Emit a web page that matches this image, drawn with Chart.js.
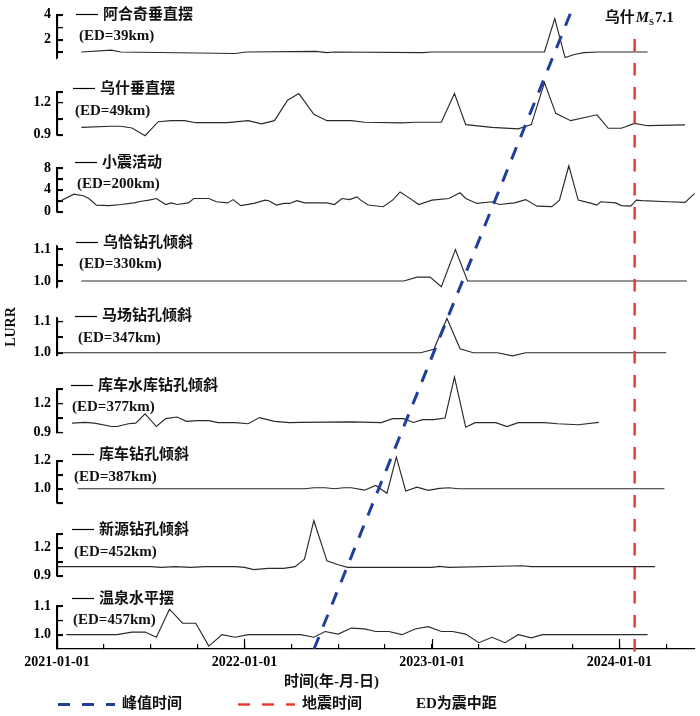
<!DOCTYPE html>
<html>
<head>
<meta charset="utf-8">
<script src="https://cdn.jsdelivr.net/npm/chart.js@4.4.1/dist/chart.umd.min.js"></script>
<style>
html,body{margin:0;padding:0;background:#fff;}
#wrap{width:700px;height:716px;position:relative;}
</style>
</head>
<body>
<div id="wrap"><canvas id="c"></canvas></div>
<script>
// ---------------- DATA ----------------
const stationNames = ['阿合奇垂直摆','乌什垂直摆','小震活动','乌恰钻孔倾斜','马场钻孔倾斜','库车水库钻孔倾斜','库车钻孔倾斜','新源钻孔倾斜','温泉水平摆'];
const epicentralKm = [39, 49, 200, 330, 347, 377, 387, 452, 457];

const t1 = [2021.13,2021.29,2021.34,2021.95,2022.01,2022.38,2022.44,2022.48,2022.95,2023.00,2023.60,2023.655,2023.71,2023.76,2023.81,2023.89,2024.15];
const v1 = [1.0,1.15,1.0,0.88,1.0,1.05,0.95,1.0,0.95,1.0,1.0,3.7,0.55,0.8,0.95,1.0,1.0];

const t2 = [2021.13,2021.29,2021.34,2021.40,2021.47,2021.54,2021.61,2021.68,2021.74,2021.91,2022.02,2022.09,2022.16,2022.23,2022.29,2022.37,2022.44,2022.57,2022.64,2022.84,2022.91,2023.05,2023.12,2023.18,2023.32,2023.46,2023.53,2023.60,2023.66,2023.74,2023.88,2023.94,2024.01,2024.08,2024.15,2024.35];
const v2 = [0.968,0.978,0.978,0.962,0.89,1.02,1.03,1.03,1.011,1.011,1.03,1.0,1.03,1.22,1.283,1.09,1.03,1.03,1.015,1.01,1.015,1.015,1.283,0.993,0.968,0.953,0.993,1.385,1.098,1.03,1.085,0.959,0.959,1.005,0.983,0.99];

const t3 = [2021.01,2021.09,2021.14,2021.17,2021.21,2021.28,2021.34,2021.41,2021.45,2021.49,2021.53,2021.58,2021.61,2021.64,2021.70,2021.73,2021.81,2021.85,2021.91,2021.94,2021.98,2022.05,2022.11,2022.13,2022.17,2022.21,2022.24,2022.28,2022.32,2022.38,2022.44,2022.48,2022.52,2022.56,2022.60,2022.62,2022.66,2022.74,2022.79,2022.83,2022.87,2022.93,2023.00,2023.09,2023.15,2023.18,2023.24,2023.32,2023.36,2023.44,2023.50,2023.56,2023.64,2023.68,2023.73,2023.78,2023.85,2023.88,2023.90,2023.98,2024.01,2024.06,2024.09,2024.12,2024.26,2024.35,2024.40];
const v3 = [1.8,3.2,2.9,2.4,1.2,1.1,1.3,1.6,1.9,2.1,2.4,1.3,1.6,1.3,1.6,2.4,2.4,1.8,1.6,2.2,1.1,1.5,2.1,2.0,1.2,1.5,1.5,2.0,1.6,1.6,1.6,1.3,2.4,2.2,2.7,2.1,1.2,0.9,2.1,3.6,2.7,1.3,2.1,2.4,3.45,2.4,1.5,1.8,1.3,1.6,2.2,1.0,0.9,2.1,8.4,2.1,1.5,1.2,1.8,1.6,1.1,1.0,2.1,2.0,1.8,1.7,3.3];

const t4 = [2021.13,2022.85,2022.92,2022.99,2023.05,2023.125,2023.19,2024.36];
const v4 = [1.0,1.0,1.012,1.012,0.982,1.098,1.0,1.0];

const t5 = [2021.0,2022.94,2023.01,2023.08,2023.15,2023.22,2023.35,2023.43,2023.50,2024.25];
const v5 = [1.0,1.0,1.011,1.109,1.013,1.0,1.0,0.99,1.0,1.0];

const t6 = [2021.08,2021.15,2021.20,2021.29,2021.32,2021.38,2021.42,2021.47,2021.53,2021.58,2021.64,2021.69,2021.75,2021.81,2021.86,2021.95,2022.02,2022.08,2022.16,2022.24,2022.30,2022.57,2022.73,2022.79,2022.85,2022.90,2022.95,2023.01,2023.07,2023.12,2023.18,2023.23,2023.34,2023.40,2023.46,2023.60,2023.67,2023.78,2023.89];
const v6 = [0.995,1.002,0.995,0.96,0.96,0.989,0.995,1.09,0.96,1.041,1.058,1.013,1.02,1.02,1.0,1.0,0.989,1.052,1.013,1.0,1.002,1.008,1.0,1.041,1.041,1.002,1.031,1.031,1.048,1.47,0.953,1.0,1.0,0.96,1.0,1.0,0.989,0.978,1.002];

const t7 = [2021.11,2022.32,2022.37,2022.43,2022.48,2022.53,2022.57,2022.64,2022.70,2022.76,2022.81,2022.86,2022.92,2022.98,2023.04,2023.09,2023.14,2024.24];
const v7 = [1.0,1.0,1.007,1.007,1.0,1.007,1.007,0.99,1.024,0.968,1.225,0.984,1.012,0.989,1.003,1.007,1.0,1.0];

const t8 = [2021.0,2021.50,2021.555,2021.63,2021.715,2021.79,2021.95,2022.0,2022.05,2022.125,2022.21,2022.27,2022.32,2022.37,2022.44,2022.50,2022.55,2023.0,2023.04,2023.09,2023.48,2023.53,2024.19];
const v8 = [0.995,0.995,0.988,0.995,0.988,0.995,0.995,0.988,0.963,0.977,0.977,0.995,1.076,1.488,1.058,1.016,0.988,0.988,0.998,0.988,1.005,0.995,0.995];

const t9 = [2021.05,2021.32,2021.40,2021.47,2021.53,2021.60,2021.67,2021.74,2021.81,2021.88,2021.95,2022.02,2022.30,2022.37,2022.43,2022.50,2022.57,2022.64,2022.70,2022.77,2022.84,2022.91,2022.98,2023.05,2023.11,2023.18,2023.25,2023.32,2023.39,2023.46,2023.53,2023.59,2024.15];
const v9 = [1.0,1.0,1.009,1.009,0.991,1.089,1.04,1.04,0.96,1.0,0.991,1.0,1.0,0.991,1.011,1.002,1.023,1.02,1.011,1.011,1.0,1.02,1.028,1.011,1.011,1.002,0.972,0.991,0.972,1.0,0.989,1.0,1.0];

// peak-time migration line and earthquake time (overlay axis 0..1 = bottom..top of plot)
const peakLineT = [2022.371, 2023.757];
const peakLineY = [0, 1.0156];
const quakeT = [2024.081, 2024.081];
const quakeY = [-0.004, 0.964];

// y ticks per panel
const yTicks1 = [1,2,3,4];             const yLabels1 = ['','2','','4'];
const yTicks2 = [0.9,1.05,1.2,1.3];    const yLabels2 = ['0.9','','1.2',''];
const yTicks3 = [0,2,4,6,8];           const yLabels3 = ['0','','4','','8'];
const yTicks4 = [1.0,1.05,1.1];        const yLabels4 = ['1.0','','1.1'];
const yTicks5 = [1.0,1.05,1.1];        const yLabels5 = ['1.0','','1.1'];
const yTicks6 = [0.9,1.05,1.2,1.35];   const yLabels6 = ['0.9','','1.2',''];
const yTicks7 = [0.9,1.0,1.1,1.2];     const yLabels7 = ['','1.0','','1.2'];
const yTicks8 = [0.9,1.05,1.2,1.35];   const yLabels8 = ['0.9','','1.2',''];
const yTicks9 = [1.0,1.05,1.1];        const yLabels9 = ['1.0','','1.1'];

// x ticks (quarters)
const xTickValues = [2021,2021.25,2021.5,2021.75,2022,2022.25,2022.5,2022.75,2023,2023.25,2023.5,2023.75,2024,2024.25];
const xTickLabels = ['2021-01-01','','','','2022-01-01','','','','2023-01-01','','','','2024-01-01',''];

const legendLabels = ['峰值时间','地震时间','ED为震中距'];
const yTitle = 'LURR';
const xTitle = '时间(年-月-日)';
const quakeLabel = ['乌什', 'M', 'S', '7.1'];

// ---------------- LAYOUT / STYLE ----------------
const FONT = "'Liberation Serif','Noto Sans CJK SC',serif";
const panelSeries = [[t1,v1],[t2,v2],[t3,v3],[t4,v4],[t5,v5],[t6,v6],[t7,v7],[t8,v8],[t9,v9]];
const panelTicks = [[yTicks1,yLabels1],[yTicks2,yLabels2],[yTicks3,yLabels3],[yTicks4,yLabels4],[yTicks5,yLabels5],[yTicks6,yLabels6],[yTicks7,yLabels7],[yTicks8,yLabels8],[yTicks9,yLabels9]];
const panelRange = [[0.5,4],[0.9,1.3],[0,8],[0.98,1.11],[0.99,1.112],[0.9,1.35],[0.9,1.2],[0.9,1.35],[0.95,1.1]];
const panelH = [43.75,43.2,44,42,38.7,44,42.4,42.3,43.3];
const gapH = [33.75,33.6,34.4,30.3,33,28.6,31,30.7];
const labelDy = [0,-2.5,-5,-2.7,-1,-2.7,-5.3,-3.4,-7.4];
const labelLineX = [76,73,75,76,75,71,72,72,72];
const edX = [79,75,77,79,78,72,74,74,73];
const AXIS_W = 57;

const blue = '#1f3f9c';
const red = '#e8372c';
const lineColor = '#2a2a2a';

const scales = {
  x: {
    type: 'linear', position: 'bottom', min: 2021, max: 2024.403,
    afterBuildTicks: s => { s.ticks = xTickValues.map(v => ({value: v})); },
    afterFit: s => { s.height = 50; },
    grid: {display: true, drawOnChartArea: false, drawTicks: true, tickLength: -5, color: '#000', lineWidth: 1.2},
    border: {display: true, color: '#000', width: 1.2},
    ticks: {
      autoSkip: false, maxRotation: 0, minRotation: 0, padding: 10, color: '#000',
      font: {family: FONT, size: 14, weight: 'bold'},
      callback: (v, i) => xTickLabels[i]
    }
  },
  yo: {
    type: 'linear', position: 'left', axis: 'y', min: 0, max: 1, display: false, weight: 100
  }
};
panelSeries.forEach((_, i) => {
  const [tv, tl] = panelTicks[i];
  scales['y' + i] = {
    type: 'linear', position: 'left', axis: 'y', stack: 'panels',
    stackWeight: panelH[i], weight: 60 - 2 * i,
    min: panelRange[i][0], max: panelRange[i][1],
    afterBuildTicks: s => { s.ticks = tv.map(v => ({value: v})); },
    afterFit: s => { s.width = AXIS_W; },
    grid: {display: true, drawOnChartArea: false, drawTicks: true, tickLength: -6, color: '#000', lineWidth: 1.2},
    border: {display: true, color: '#000', width: 1.2},
    ticks: {
      autoSkip: false, padding: 12, color: '#000',
      font: {family: FONT, size: 14, weight: 'bold', lineHeight: 0.4},
      callback: (v, k) => tl[k]
    }
  };
  if (i < gapH.length) {
    scales['g' + i] = {
      type: 'linear', position: 'left', axis: 'y', stack: 'panels',
      stackWeight: gapH[i], weight: 60 - 2 * i - 1, display: false
    };
  }
});

const datasets = [
  {
    label: legendLabels[1],
    data: quakeT.map((t, k) => ({x: t, y: quakeY[k]})),
    xAxisID: 'x', yAxisID: 'yo',
    borderColor: red, borderWidth: 2.4, borderDash: [12.5, 11.5],
    pointRadius: 0, clip: false, fill: false
  },
  {
    label: legendLabels[0],
    data: peakLineT.map((t, k) => ({x: t, y: peakLineY[k]})),
    xAxisID: 'x', yAxisID: 'yo',
    borderColor: blue, borderWidth: 3, borderDash: [13, 11],
    pointRadius: 0, clip: false, fill: false
  }
];
panelSeries.forEach(([tt, vv], i) => {
  datasets.push({
    label: stationNames[i],
    data: tt.map((t, k) => ({x: t, y: vv[k]})),
    xAxisID: 'x', yAxisID: 'y' + i,
    borderColor: lineColor, borderWidth: 1.15,
    pointRadius: 0, tension: 0, clip: false, fill: false
  });
});

function seg(ctx, x1, y1, x2, y2) {
  ctx.beginPath(); ctx.moveTo(x1, y1); ctx.lineTo(x2, y2); ctx.stroke();
}

const decor = {
  id: 'decor',
  afterDraw(chart) {
    const ctx = chart.ctx;
    const xs = chart.scales.x;
    ctx.save();
    ctx.setLineDash([]);
    ctx.strokeStyle = '#000';
    ctx.fillStyle = '#111';
    ctx.textBaseline = 'middle';
    ctx.textAlign = 'left';
    ctx.font = `bold 15px ${FONT}`;
    ctx.lineWidth = 1.2;
    // panel labels
    panelSeries.forEach((_, i) => {
      const s = chart.scales['y' + i];
      const y = s.top + labelDy[i];
      const lx = labelLineX[i];
      seg(ctx, lx, Math.round(y) - 0.5, lx + 22, Math.round(y) - 0.5);
      ctx.fillText(stationNames[i], lx + 27, y);
      ctx.fillText('(ED=' + epicentralKm[i] + 'km)', edX[i], y + 21.5);
    });

    // y title
    ctx.save();
    ctx.translate(11.5, 327);
    ctx.rotate(-Math.PI / 2);
    ctx.textAlign = 'center';
    ctx.font = `bold 14px ${FONT}`;
    ctx.fillText(yTitle, 0, 0);
    ctx.restore();

    // x title
    ctx.textAlign = 'center';
    ctx.font = `bold 15px ${FONT}`;
    ctx.fillText(xTitle, 331.5, 681.7);

    // quake annotation
    const qx = xs.getPixelForValue(quakeT[0]);
    ctx.textAlign = 'left';
    let cx = qx - 30;
    const qy = 18.3;
    ctx.font = `bold 15px ${FONT}`;
    ctx.fillText(quakeLabel[0], cx, qy); cx += ctx.measureText(quakeLabel[0]).width + 1;
    ctx.font = `italic bold 15px ${FONT}`;
    ctx.fillText(quakeLabel[1], cx, qy); cx += ctx.measureText(quakeLabel[1]).width;
    ctx.font = `bold 9px ${FONT}`;
    ctx.fillText(quakeLabel[2], cx, qy + 4); cx += ctx.measureText(quakeLabel[2]).width + 1;
    ctx.font = `bold 15px ${FONT}`;
    ctx.fillText(quakeLabel[3], cx, qy);

    // bottom legend
    const ly = 704.5;
    ctx.setLineDash([12, 12]);
    ctx.strokeStyle = blue; ctx.lineWidth = 3;
    seg(ctx, 58, ly, 115, ly);
    ctx.strokeStyle = red; ctx.lineWidth = 2.4;
    seg(ctx, 238, ly, 295, ly);
    ctx.setLineDash([]);
    ctx.fillStyle = '#111';
    ctx.font = `bold 15px ${FONT}`;
    ctx.fillText(legendLabels[0], 122, ly);
    ctx.fillText(legendLabels[1], 302, ly);
    ctx.fillText(legendLabels[2], 416, ly);

    // longer inward marks for the yearly x ticks
    ctx.fillStyle = '#000';
    xs.ticks.forEach((t, k) => {
      if (!xTickLabels[k]) return;
      const x = Math.round(xs.getPixelForValue(t.value));
      ctx.fillRect(x - 0.1, xs.top - 10, 1.2, 10);
    });
    // reinforce each panel's axis line and inward ticks at the scale edge
    for (let i = 0; i < panelSeries.length; i++) {
      const s = chart.scales['y' + i];
      const ax = Math.round(s.right);
      ctx.fillRect(ax - 0.1, s.top, 1.2, s.bottom - s.top);
      s.ticks.forEach(t => {
        const y = Math.round(s.getPixelForValue(t.value));
        ctx.fillRect(ax - 0.1, y - 0.1, 6, 1.2);
      });
    }
    ctx.restore();
  }
};

new Chart(document.getElementById('c'), {
  type: 'line',
  data: {datasets},
  options: {
    responsive: true,
    maintainAspectRatio: false,
    animation: false,
    events: [],
    layout: {padding: {top: 10, right: 5, bottom: 17, left: 0}},
    plugins: {legend: {display: false}, tooltip: {enabled: false}, title: {display: false}},
    scales
  },
  plugins: [decor]
});
</script>
</body>
</html>
